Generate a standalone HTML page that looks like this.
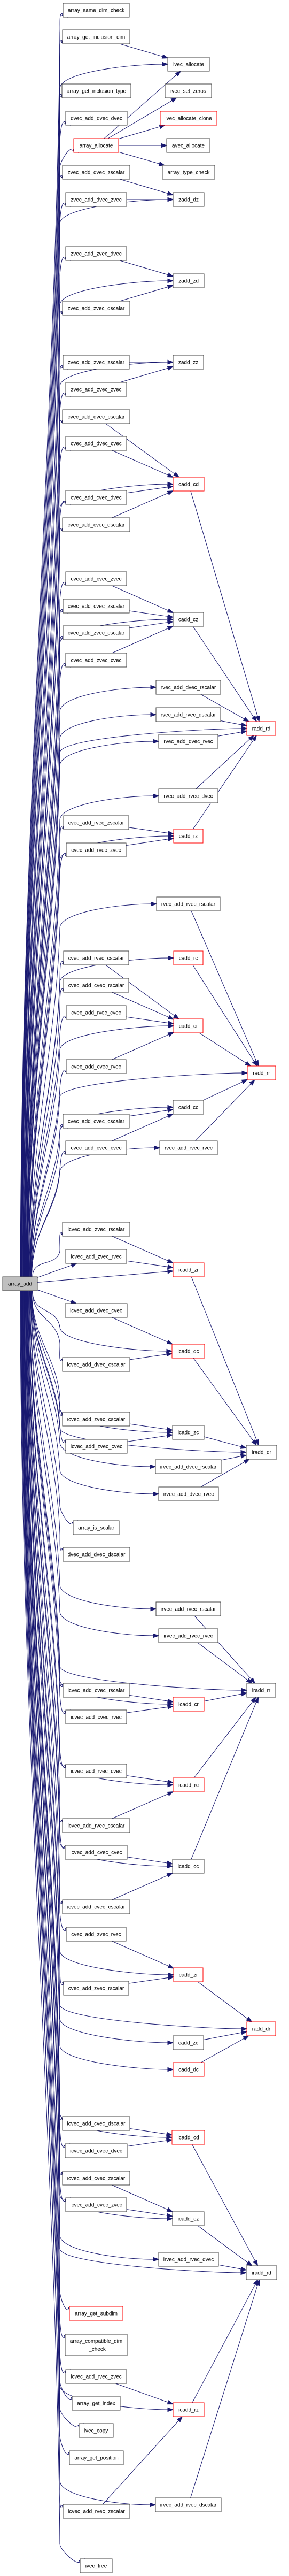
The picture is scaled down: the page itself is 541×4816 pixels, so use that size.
<!DOCTYPE html>
<html><head><meta charset="utf-8"><style>
html,body{margin:0;padding:0;background:#fff;}
svg{display:block;}
text{font-family:"Liberation Sans",Arial,sans-serif;font-size:10px;fill:#000;text-anchor:middle;}
rect{fill:#fff;stroke:#404040;stroke-width:1;}
rect.r{stroke:#ff0000;}
rect.g{fill:#bfbfbf;}
</style></head><body>
<svg id="s" xmlns="http://www.w3.org/2000/svg" width="541" height="4816" viewBox="0 0 541 4816">
<g id="edges" stroke="#191970" fill="none" stroke-width="1"></g>
<g id="arrows" fill="#191970" stroke="#191970" stroke-width="1"></g>
<g id="nodes">
<rect id="n_array_same_dim_check" x="118" y="6" width="124" height="26"/><text x="180" y="22.5">array_same_dim_check</text>
<rect id="n_array_get_inclusion_dim" x="117" y="56" width="126" height="26"/><text x="180" y="72.5">array_get_inclusion_dim</text>
<rect id="n_array_get_inclusion_type" x="116" y="157" width="129" height="26"/><text x="180.5" y="173.5">array_get_inclusion_type</text>
<rect id="n_dvec_add_dvec_dvec" x="123" y="208" width="115" height="26"/><text x="180.5" y="224.5">dvec_add_dvec_dvec</text>
<rect class="r" id="n_array_allocate" x="138" y="259" width="84" height="26"/><text x="180" y="275.5">array_allocate</text>
<rect id="n_zvec_add_dvec_zscalar" x="117" y="309" width="126" height="26"/><text x="180" y="325.5">zvec_add_dvec_zscalar</text>
<rect id="n_zvec_add_dvec_zvec" x="123" y="360" width="114" height="26"/><text x="180" y="376.5">zvec_add_dvec_zvec</text>
<rect id="n_zvec_add_zvec_dvec" x="123" y="461" width="114" height="26"/><text x="180" y="477.5">zvec_add_zvec_dvec</text>
<rect id="n_zvec_add_zvec_dscalar" x="117" y="563" width="126" height="26"/><text x="180" y="579.5">zvec_add_zvec_dscalar</text>
<rect id="n_zvec_add_zvec_zscalar" x="118" y="664" width="124" height="26"/><text x="180" y="680.5">zvec_add_zvec_zscalar</text>
<rect id="n_zvec_add_zvec_zvec" x="123" y="715" width="114" height="26"/><text x="180" y="731.5">zvec_add_zvec_zvec</text>
<rect id="n_cvec_add_dvec_cscalar" x="117" y="766" width="126" height="26"/><text x="180" y="782.5">cvec_add_dvec_cscalar</text>
<rect id="n_cvec_add_dvec_cvec" x="123" y="816" width="114" height="26"/><text x="180" y="832.5">cvec_add_dvec_cvec</text>
<rect id="n_cvec_add_cvec_dvec" x="123" y="917" width="114" height="26"/><text x="180" y="933.5">cvec_add_cvec_dvec</text>
<rect id="n_cvec_add_cvec_dscalar" x="117" y="968" width="126" height="26"/><text x="180" y="984.5">cvec_add_cvec_dscalar</text>
<rect id="n_cvec_add_cvec_zvec" x="123" y="1069" width="114" height="26"/><text x="180" y="1085.5">cvec_add_cvec_zvec</text>
<rect id="n_cvec_add_cvec_zscalar" x="118" y="1120" width="124" height="26"/><text x="180" y="1136.5">cvec_add_cvec_zscalar</text>
<rect id="n_cvec_add_zvec_cscalar" x="118" y="1170" width="124" height="26"/><text x="180" y="1186.5">cvec_add_zvec_cscalar</text>
<rect id="n_cvec_add_zvec_cvec" x="123" y="1221" width="114" height="26"/><text x="180" y="1237.5">cvec_add_zvec_cvec</text>
<rect id="n_cvec_add_rvec_zscalar" x="119" y="1525" width="122" height="26"/><text x="180" y="1541.5">cvec_add_rvec_zscalar</text>
<rect id="n_cvec_add_rvec_zvec" x="124" y="1576" width="112" height="26"/><text x="180" y="1592.5">cvec_add_rvec_zvec</text>
<rect id="n_cvec_add_rvec_cscalar" x="119" y="1778" width="122" height="26"/><text x="180" y="1794.5">cvec_add_rvec_cscalar</text>
<rect id="n_cvec_add_cvec_rscalar" x="119" y="1829" width="122" height="26"/><text x="180" y="1845.5">cvec_add_cvec_rscalar</text>
<rect id="n_cvec_add_rvec_cvec" x="124" y="1880" width="112" height="26"/><text x="180" y="1896.5">cvec_add_rvec_cvec</text>
<rect id="n_cvec_add_cvec_rvec" x="124" y="1981" width="112" height="26"/><text x="180" y="1997.5">cvec_add_cvec_rvec</text>
<rect id="n_cvec_add_cvec_cscalar" x="118" y="2083" width="124" height="26"/><text x="180" y="2099.5">cvec_add_cvec_cscalar</text>
<rect id="n_cvec_add_cvec_cvec" x="123" y="2133" width="114" height="26"/><text x="180" y="2149.5">cvec_add_cvec_cvec</text>
<rect id="n_icvec_add_zvec_rscalar" x="117" y="2285" width="126" height="26"/><text x="180" y="2301.5">icvec_add_zvec_rscalar</text>
<rect id="n_icvec_add_zvec_rvec" x="123" y="2336" width="114" height="26"/><text x="180" y="2352.5">icvec_add_zvec_rvec</text>
<rect class="g" id="n_array_add" x="5" y="2387" width="65" height="26"/><text x="37.5" y="2403.5">array_add</text>
<rect id="n_icvec_add_dvec_cvec" x="122" y="2437" width="116" height="26"/><text x="180" y="2453.5">icvec_add_dvec_cvec</text>
<rect id="n_icvec_add_dvec_cscalar" x="117" y="2538" width="126" height="26"/><text x="180" y="2554.5">icvec_add_dvec_cscalar</text>
<rect id="n_icvec_add_zvec_cscalar" x="117" y="2640" width="126" height="26"/><text x="180" y="2656.5">icvec_add_zvec_cscalar</text>
<rect id="n_icvec_add_zvec_cvec" x="123" y="2691" width="115" height="26"/><text x="180.5" y="2707.5">icvec_add_zvec_cvec</text>
<rect id="n_array_is_scalar" x="137" y="2843" width="86" height="26"/><text x="180" y="2859.5">array_is_scalar</text>
<rect id="n_dvec_add_dvec_dscalar" x="118" y="2893" width="125" height="26"/><text x="180.5" y="2909.5">dvec_add_dvec_dscalar</text>
<rect id="n_icvec_add_cvec_rscalar" x="118" y="3147" width="124" height="26"/><text x="180" y="3163.5">icvec_add_cvec_rscalar</text>
<rect id="n_icvec_add_cvec_rvec" x="123" y="3197" width="114" height="26"/><text x="180" y="3213.5">icvec_add_cvec_rvec</text>
<rect id="n_icvec_add_rvec_cvec" x="123" y="3298" width="114" height="26"/><text x="180" y="3314.5">icvec_add_rvec_cvec</text>
<rect id="n_icvec_add_rvec_cscalar" x="117" y="3400" width="126" height="26"/><text x="180" y="3416.5">icvec_add_rvec_cscalar</text>
<rect id="n_icvec_add_cvec_cvec" x="122" y="3450" width="116" height="26"/><text x="180" y="3466.5">icvec_add_cvec_cvec</text>
<rect id="n_icvec_add_cvec_cscalar" x="117" y="3552" width="126" height="26"/><text x="180" y="3568.5">icvec_add_cvec_cscalar</text>
<rect id="n_cvec_add_zvec_rvec" x="124" y="3603" width="112" height="26"/><text x="180" y="3619.5">cvec_add_zvec_rvec</text>
<rect id="n_cvec_add_zvec_rscalar" x="119" y="3704" width="122" height="26"/><text x="180" y="3720.5">cvec_add_zvec_rscalar</text>
<rect id="n_icvec_add_cvec_dscalar" x="117" y="3957" width="126" height="26"/><text x="180" y="3973.5">icvec_add_cvec_dscalar</text>
<rect id="n_icvec_add_cvec_dvec" x="122" y="4008" width="116" height="26"/><text x="180" y="4024.5">icvec_add_cvec_dvec</text>
<rect id="n_icvec_add_cvec_zscalar" x="117" y="4059" width="126" height="26"/><text x="180" y="4075.5">icvec_add_cvec_zscalar</text>
<rect id="n_icvec_add_cvec_zvec" x="123" y="4109" width="114" height="26"/><text x="180" y="4125.5">icvec_add_cvec_zvec</text>
<rect class="r" id="n_array_get_subdim" x="130" y="4312" width="100" height="26"/><text x="180" y="4328.5">array_get_subdim</text>
<rect id="n_array_compatible_dim_check" x="122" y="4364" width="116" height="40"/><text x="180" y="4380">array_compatible_dim</text><text x="182" y="4395">_check</text>
<rect id="n_icvec_add_rvec_zvec" x="123" y="4430" width="114" height="26"/><text x="180" y="4446.5">icvec_add_rvec_zvec</text>
<rect id="n_array_get_index" x="135" y="4480" width="90" height="26"/><text x="180" y="4496.5">array_get_index</text>
<rect id="n_ivec_copy" x="148" y="4531" width="64" height="26"/><text x="180" y="4547.5">ivec_copy</text>
<rect id="n_array_get_position" x="130" y="4582" width="101" height="26"/><text x="180.5" y="4598.5">array_get_position</text>
<rect id="n_icvec_add_rvec_zscalar" x="118" y="4682" width="125" height="26"/><text x="180.5" y="4698.5">icvec_add_rvec_zscalar</text>
<rect id="n_ivec_free" x="150" y="4784" width="60" height="26"/><text x="180" y="4800.5">ivec_free</text>

<rect id="n_ivec_allocate" x="314" y="107" width="78" height="26"/><text x="353" y="123.5">ivec_allocate</text>
<rect id="n_ivec_set_zeros" x="309" y="157" width="87" height="26"/><text x="352.5" y="173.5">ivec_set_zeros</text>
<rect class="r" id="n_ivec_allocate_clone" x="300" y="208" width="106" height="26"/><text x="353" y="224.5">ivec_allocate_clone</text>
<rect id="n_avec_allocate" x="312" y="259" width="81" height="26"/><text x="352.5" y="275.5">avec_allocate</text>
<rect id="n_array_type_check" x="304" y="309" width="98" height="26"/><text x="353" y="325.5">array_type_check</text>
<rect id="n_zadd_dz" x="324" y="360" width="58" height="26"/><text x="353" y="376.5">zadd_dz</text>
<rect id="n_zadd_zd" x="324" y="512" width="58" height="26"/><text x="353" y="528.5">zadd_zd</text>
<rect id="n_zadd_zz" x="324" y="664" width="57" height="26"/><text x="352.5" y="680.5">zadd_zz</text>
<rect class="r" id="n_cadd_cd" x="324" y="892" width="58" height="26"/><text x="353" y="908.5">cadd_cd</text>
<rect id="n_cadd_cz" x="324" y="1145" width="57" height="26"/><text x="352.5" y="1161.5">cadd_cz</text>
<rect id="n_rvec_add_dvec_rscalar" x="292" y="1272" width="121" height="26"/><text x="352.5" y="1288.5">rvec_add_dvec_rscalar</text>
<rect id="n_rvec_add_rvec_dscalar" x="292" y="1323" width="121" height="26"/><text x="352.5" y="1339.5">rvec_add_rvec_dscalar</text>
<rect id="n_rvec_add_dvec_rvec" x="297" y="1373" width="111" height="26"/><text x="352.5" y="1389.5">rvec_add_dvec_rvec</text>
<rect id="n_rvec_add_rvec_dvec" x="297" y="1475" width="111" height="26"/><text x="352.5" y="1491.5">rvec_add_rvec_dvec</text>
<rect class="r" id="n_cadd_rz" x="325" y="1550" width="55" height="26"/><text x="352.5" y="1566.5">cadd_rz</text>
<rect id="n_rvec_add_rvec_rscalar" x="293" y="1677" width="119" height="26"/><text x="352.5" y="1693.5">rvec_add_rvec_rscalar</text>
<rect class="r" id="n_cadd_rc" x="325" y="1778" width="55" height="26"/><text x="352.5" y="1794.5">cadd_rc</text>
<rect class="r" id="n_cadd_cr" x="325" y="1905" width="55" height="26"/><text x="352.5" y="1921.5">cadd_cr</text>
<rect id="n_cadd_cc" x="324" y="2057" width="57" height="26"/><text x="352.5" y="2073.5">cadd_cc</text>
<rect id="n_rvec_add_rvec_rvec" x="299" y="2133" width="108" height="26"/><text x="353" y="2149.5">rvec_add_rvec_rvec</text>
<rect class="r" id="n_icadd_zr" x="324" y="2361" width="58" height="26"/><text x="353" y="2377.5">icadd_zr</text>
<rect class="r" id="n_icadd_dc" x="322" y="2513" width="61" height="26"/><text x="352.5" y="2529.5">icadd_dc</text>
<rect id="n_icadd_zc" x="323" y="2665" width="59" height="26"/><text x="352.5" y="2681.5">icadd_zc</text>
<rect id="n_irvec_add_dvec_rscalar" x="291" y="2729" width="123" height="26"/><text x="352.5" y="2745.5">irvec_add_dvec_rscalar</text>
<rect id="n_irvec_add_dvec_rvec" x="297" y="2780" width="112" height="26"/><text x="353" y="2796.5">irvec_add_dvec_rvec</text>
<rect id="n_irvec_add_rvec_rscalar" x="292" y="2995" width="121" height="26"/><text x="352.5" y="3011.5">irvec_add_rvec_rscalar</text>
<rect id="n_irvec_add_rvec_rvec" x="297" y="3045" width="111" height="26"/><text x="352.5" y="3061.5">irvec_add_rvec_rvec</text>
<rect class="r" id="n_icadd_cr" x="324" y="3173" width="58" height="26"/><text x="353" y="3189.5">icadd_cr</text>
<rect class="r" id="n_icadd_rc" x="324" y="3324" width="58" height="26"/><text x="353" y="3340.5">icadd_rc</text>
<rect id="n_icadd_cc" x="323" y="3476" width="59" height="26"/><text x="352.5" y="3492.5">icadd_cc</text>
<rect class="r" id="n_cadd_zr" x="325" y="3679" width="55" height="26"/><text x="352.5" y="3695.5">cadd_zr</text>
<rect id="n_cadd_zc" x="324" y="3806" width="57" height="26"/><text x="352.5" y="3822.5">cadd_zc</text>
<rect class="r" id="n_cadd_dc" x="324" y="3856" width="58" height="26"/><text x="353" y="3872.5">cadd_dc</text>
<rect class="r" id="n_icadd_cd" x="322" y="3983" width="61" height="26"/><text x="352.5" y="3999.5">icadd_cd</text>
<rect id="n_icadd_cz" x="323" y="4135" width="59" height="26"/><text x="352.5" y="4151.5">icadd_cz</text>
<rect id="n_irvec_add_rvec_dvec" x="297" y="4211" width="112" height="26"/><text x="353" y="4227.5">irvec_add_rvec_dvec</text>
<rect class="r" id="n_icadd_rz" x="324" y="4492" width="58" height="26"/><text x="353" y="4508.5">icadd_rz</text>
<rect id="n_irvec_add_rvec_dscalar" x="291" y="4670" width="123" height="26"/><text x="352.5" y="4686.5">irvec_add_rvec_dscalar</text>

<rect class="r" id="n_radd_rd" x="462" y="1349" width="54" height="26"/><text x="489" y="1365.5">radd_rd</text>
<rect class="r" id="n_radd_rr" x="463" y="1993" width="53" height="26"/><text x="489.5" y="2009.5">radd_rr</text>
<rect id="n_iradd_dr" x="461" y="2702" width="57" height="26"/><text x="489.5" y="2718.5">iradd_dr</text>
<rect id="n_iradd_rr" x="462" y="3147" width="54" height="26"/><text x="489" y="3163.5">iradd_rr</text>
<rect class="r" id="n_radd_dr" x="462" y="3780" width="54" height="26"/><text x="489" y="3796.5">radd_dr</text>
<rect id="n_iradd_rd" x="461" y="4236" width="57" height="26"/><text x="489.5" y="4252.5">iradd_rd</text>
</g>
</svg>
<script>
(function(){
var NS='http://www.w3.org/2000/svg';
var eg=document.getElementById('edges'),ag=document.getElementById('arrows');
function R(n){var r=document.getElementById('n_'+n);return{x:+r.getAttribute('x'),y:+r.getAttribute('y'),w:+r.getAttribute('width'),h:+r.getAttribute('height')};}
function P(d){var p=document.createElementNS(NS,'path');p.setAttribute('d',d);eg.appendChild(p);}
function A(x,y,ux,uy){var L=10,W=3.6,bx=x-ux*L,by=y-uy*L;var p=document.createElementNS(NS,'polygon');
p.setAttribute('points',x+','+y+' '+(bx-uy*W)+','+(by+ux*W)+' '+(bx+uy*W)+','+(by-ux*W));ag.appendChild(p);}
function clip(b,qx,qy){var cx=b.x+b.w/2,cy=b.y+b.h/2,dx=qx-cx,dy=qy-cy,t=1e9;
if(dx)t=Math.min(t,(b.w/2)/Math.abs(dx));if(dy)t=Math.min(t,(b.h/2)/Math.abs(dy));return[cx+dx*t,cy+dy*t];}
function S(a,b){var A1=R(a),B=R(b);var ac=[A1.x+A1.w/2,A1.y+A1.h/2],bc=[B.x+B.w/2,B.y+B.h/2];
var p=clip(A1,bc[0],bc[1]),q=clip(B,ac[0],ac[1]);var dx=q[0]-p[0],dy=q[1]-p[1],l=Math.sqrt(dx*dx+dy*dy),ux=dx/l,uy=dy/l;
P('M'+p[0]+','+p[1]+'L'+(q[0]-ux*10)+','+(q[1]-uy*10));A(q[0],q[1],ux,uy);}
var AA=R('array_add');var acy=AA.y+AA.h/2;
function D(t){var T=R(t);var ty=T.y+T.h/2;var d=Math.abs(acy-ty);
if(d<80){S('array_add',t);return;}
var up=ty<acy,s=up?-1:1;var f=Math.min(d,2400)/2400;
var sx=62-24*f,sy=up?AA.y:AA.y+AA.h;var vx=112;var E,ux,uy,Py;
if(T.x<200){E=[T.x+8,up?T.y+T.h:T.y];var n=Math.sqrt(1+0.49);ux=1/n;uy=-s*0.7/n;Py=E[1]-s*28;}
else{E=[T.x,ty];ux=1;uy=0;Py=ty-s*45;}
var Ep=[E[0]-ux*10,E[1]-uy*10];
var d1='M'+sx+','+sy+' C'+sx+','+(sy+s*d*0.35)+' '+(vx-6)+','+(Py-s*d*0.3)+' '+vx+','+Py;
var c1=[vx+1,Py+s*(T.x<200?12:30)],c2=[Ep[0]-ux*(T.x<200?10:60),Ep[1]-uy*10];
P(d1+' C'+c1[0]+','+c1[1]+' '+c2[0]+','+c2[1]+' '+Ep[0]+','+Ep[1]);A(E[0],E[1],ux,uy);}
var col2=['array_same_dim_check','array_get_inclusion_dim','array_get_inclusion_type','dvec_add_dvec_dvec','array_allocate','zvec_add_dvec_zscalar','zvec_add_dvec_zvec','zvec_add_zvec_dvec','zvec_add_zvec_dscalar','zvec_add_zvec_zscalar','zvec_add_zvec_zvec','cvec_add_dvec_cscalar','cvec_add_dvec_cvec','cvec_add_cvec_dvec','cvec_add_cvec_dscalar','cvec_add_cvec_zvec','cvec_add_cvec_zscalar','cvec_add_zvec_cscalar','cvec_add_zvec_cvec','cvec_add_rvec_zscalar','cvec_add_rvec_zvec','cvec_add_rvec_cscalar','cvec_add_cvec_rscalar','cvec_add_rvec_cvec','cvec_add_cvec_rvec','cvec_add_cvec_cscalar','cvec_add_cvec_cvec','icvec_add_zvec_rscalar','icvec_add_zvec_rvec','icvec_add_dvec_cvec','icvec_add_dvec_cscalar','icvec_add_zvec_cscalar','icvec_add_zvec_cvec','array_is_scalar','dvec_add_dvec_dscalar','icvec_add_cvec_rscalar','icvec_add_cvec_rvec','icvec_add_rvec_cvec','icvec_add_rvec_cscalar','icvec_add_cvec_cvec','icvec_add_cvec_cscalar','cvec_add_zvec_rvec','cvec_add_zvec_rscalar','icvec_add_cvec_dscalar','icvec_add_cvec_dvec','icvec_add_cvec_zscalar','icvec_add_cvec_zvec','array_get_subdim','array_compatible_dim_check','icvec_add_rvec_zvec','array_get_index','ivec_copy','array_get_position','icvec_add_rvec_zscalar','ivec_free'];
var direct=['ivec_allocate','zadd_dz','zadd_zd','zadd_zz','cadd_cd','cadd_cz','rvec_add_dvec_rscalar','rvec_add_rvec_dscalar','rvec_add_dvec_rvec','radd_rd','rvec_add_rvec_dvec','cadd_rz','rvec_add_rvec_rscalar','cadd_rc','cadd_cr','cadd_cc','rvec_add_rvec_rvec','radd_rr','icadd_zr','icadd_dc','icadd_zc','irvec_add_dvec_rscalar','irvec_add_dvec_rvec','iradd_dr','irvec_add_rvec_rscalar','irvec_add_rvec_rvec','iradd_rr','icadd_cr','icadd_rc','icadd_cc','cadd_zr','radd_dr','cadd_zc','cadd_dc','icadd_cd','icadd_cz','irvec_add_rvec_dvec','iradd_rd','icadd_rz','irvec_add_rvec_dscalar'];
col2.forEach(D);direct.forEach(D);
var E2=[['array_get_inclusion_dim','ivec_allocate'],['array_allocate','ivec_allocate'],['array_allocate','ivec_set_zeros'],['array_allocate','ivec_allocate_clone'],['array_allocate','avec_allocate'],['array_allocate','array_type_check'],
['zvec_add_dvec_zscalar','zadd_dz'],['zvec_add_dvec_zvec','zadd_dz'],['zvec_add_zvec_dvec','zadd_zd'],['zvec_add_zvec_dscalar','zadd_zd'],['zvec_add_zvec_zscalar','zadd_zz'],['zvec_add_zvec_zvec','zadd_zz'],
['cvec_add_dvec_cscalar','cadd_cd'],['cvec_add_dvec_cvec','cadd_cd'],['cvec_add_cvec_dvec','cadd_cd'],['cvec_add_cvec_dscalar','cadd_cd'],
['cvec_add_cvec_zvec','cadd_cz'],['cvec_add_cvec_zscalar','cadd_cz'],['cvec_add_zvec_cscalar','cadd_cz'],['cvec_add_zvec_cvec','cadd_cz'],
['cadd_cd','radd_rd'],['cadd_cz','radd_rd'],['rvec_add_dvec_rscalar','radd_rd'],['rvec_add_rvec_dscalar','radd_rd'],['rvec_add_dvec_rvec','radd_rd'],['rvec_add_rvec_dvec','radd_rd'],['cadd_rz','radd_rd'],
['cvec_add_rvec_zscalar','cadd_rz'],['cvec_add_rvec_zvec','cadd_rz'],
['cvec_add_rvec_cscalar','cadd_cr'],['cvec_add_cvec_rscalar','cadd_cr'],['cvec_add_rvec_cvec','cadd_cr'],['cvec_add_cvec_rvec','cadd_cr'],
['rvec_add_rvec_rscalar','radd_rr'],['cadd_rc','radd_rr'],['cadd_cr','radd_rr'],['cadd_cc','radd_rr'],['rvec_add_rvec_rvec','radd_rr'],
['cvec_add_cvec_cscalar','cadd_cc'],['cvec_add_cvec_cvec','cadd_cc'],
['icvec_add_zvec_rscalar','icadd_zr'],['icvec_add_zvec_rvec','icadd_zr'],['icadd_zr','iradd_dr'],
['icvec_add_dvec_cvec','icadd_dc'],['icvec_add_dvec_cscalar','icadd_dc'],['icadd_dc','iradd_dr'],
['icvec_add_zvec_cscalar','icadd_zc'],['icvec_add_zvec_cvec','icadd_zc'],['icadd_zc','iradd_dr'],
['irvec_add_dvec_rscalar','iradd_dr'],['irvec_add_dvec_rvec','iradd_dr'],
['irvec_add_rvec_rscalar','iradd_rr'],['irvec_add_rvec_rvec','iradd_rr'],
['icvec_add_cvec_rscalar','icadd_cr'],['icvec_add_cvec_rvec','icadd_cr'],['icadd_cr','iradd_rr'],
['icvec_add_rvec_cvec','icadd_rc'],['icvec_add_rvec_cscalar','icadd_rc'],['icadd_rc','iradd_rr'],
['icvec_add_cvec_cvec','icadd_cc'],['icvec_add_cvec_cscalar','icadd_cc'],['icadd_cc','iradd_rr'],
['cvec_add_zvec_rvec','cadd_zr'],['cvec_add_zvec_rscalar','cadd_zr'],['cadd_zr','radd_dr'],['cadd_zc','radd_dr'],['cadd_dc','radd_dr'],
['icvec_add_cvec_dscalar','icadd_cd'],['icvec_add_cvec_dvec','icadd_cd'],['icadd_cd','iradd_rd'],
['icvec_add_cvec_zscalar','icadd_cz'],['icvec_add_cvec_zvec','icadd_cz'],['icadd_cz','iradd_rd'],
['irvec_add_rvec_dvec','iradd_rd'],['icvec_add_rvec_zvec','icadd_rz'],['icvec_add_rvec_zscalar','icadd_rz'],['icadd_rz','iradd_rd'],['irvec_add_rvec_dscalar','iradd_rd']];
E2.forEach(function(e){S(e[0],e[1]);});
})();
</script>
</body></html>
